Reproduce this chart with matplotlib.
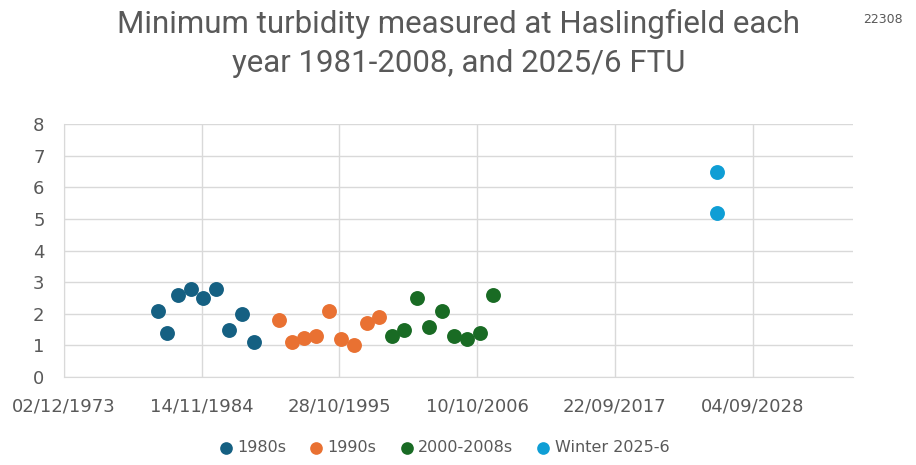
import datetime as dt
import matplotlib
matplotlib.use("Agg")
import matplotlib.pyplot as plt
import matplotlib.dates as mdates

# Minimum turbidity (FTU) per year
dates_80s = ["1981-05-15", "1982-02-01", "1983-01-05", "1983-12-28", "1985-01-01",
             "1985-12-28", "1987-01-25", "1988-01-20", "1989-01-20"]
vals_80s = [2.1, 1.4, 2.6, 2.8, 2.5, 2.8, 1.5, 2.0, 1.1]

dates_90s = ["1991-01-15", "1992-01-10", "1993-01-05", "1993-12-15", "1995-01-08",
             "1995-12-05", "1996-12-25", "1997-12-28", "1998-12-20"]
vals_90s = [1.8, 1.1, 1.25, 1.3, 2.1, 1.2, 1.0, 1.7, 1.9]

dates_00s = ["2000-01-10", "2000-12-15", "2001-12-20", "2002-12-20", "2004-01-01",
             "2004-12-10", "2005-12-15", "2007-01-01", "2008-01-05"]
vals_00s = [1.3, 1.5, 2.5, 1.6, 2.1, 1.3, 1.2, 1.4, 2.6]

dates_25 = ["2025-11-15", "2025-11-15"]
vals_25 = [6.5, 5.2]

series = [
    ("1980s", dates_80s, vals_80s, "#156082"),
    ("1990s", dates_90s, vals_90s, "#E97132"),
    ("2000-2008s", dates_00s, vals_00s, "#196B24"),
    ("Winter 2025-6", dates_25, vals_25, "#0F9ED5"),
]

# Excel style axis: start 02/12/1973, major unit 4000 days
x_start = dt.datetime(1973, 12, 2)
x_end = x_start + dt.timedelta(days=22920)
tick_dates = [x_start + dt.timedelta(days=4000 * i) for i in range(6)]

grey = "#595959"
grid = "#d9d9d9"

fig = plt.figure(figsize=(9.16, 4.65), dpi=100)
ax = fig.add_axes([0.0699, 0.189, 0.8614, 0.544])

for name, d, v, c in series:
    xs = [dt.datetime.strptime(s, "%Y-%m-%d") for s in d]
    ax.scatter(xs, v, s=115, color=c, label=name, zorder=3, linewidths=0)

ax.set_xlim(x_start, x_end)
ax.set_ylim(0, 8)
ax.set_yticks(range(0, 9))
ax.set_xticks(tick_dates)
ax.xaxis.set_major_formatter(mdates.DateFormatter("%d/%m/%Y"))

ax.grid(True, color=grid, linewidth=1)
ax.set_axisbelow(True)
for side in ["top", "right"]:
    ax.spines[side].set_visible(False)
ax.spines["left"].set_color(grid)
ax.spines["bottom"].set_color(grid)
ax.tick_params(length=0, colors=grey, labelsize=13)
ax.tick_params(axis="x", pad=15)
ax.tick_params(axis="y", pad=14)

# title, two lines placed separately
fig.text(0.501, 0.929, "Minimum turbidity measured at Haslingfield each",
         ha="center", va="baseline", fontsize=22.5, color=grey, family="Roboto")
fig.text(0.501, 0.845, "year 1981-2008, and 2025/6 FTU",
         ha="center", va="baseline", fontsize=22.5, color=grey, family="Roboto")
fig.text(0.964, 0.957, "22308", ha="center", va="center", fontsize=9, color=grey)

fig.legend(loc="center", bbox_to_anchor=(0.485, 0.038), ncol=4, frameon=False,
           handlelength=0.8, handletextpad=0.3, columnspacing=1.5, markerscale=0.85,
           prop={"size": 11.5}, labelcolor=grey)

fig.savefig("out.png", dpi=100)
